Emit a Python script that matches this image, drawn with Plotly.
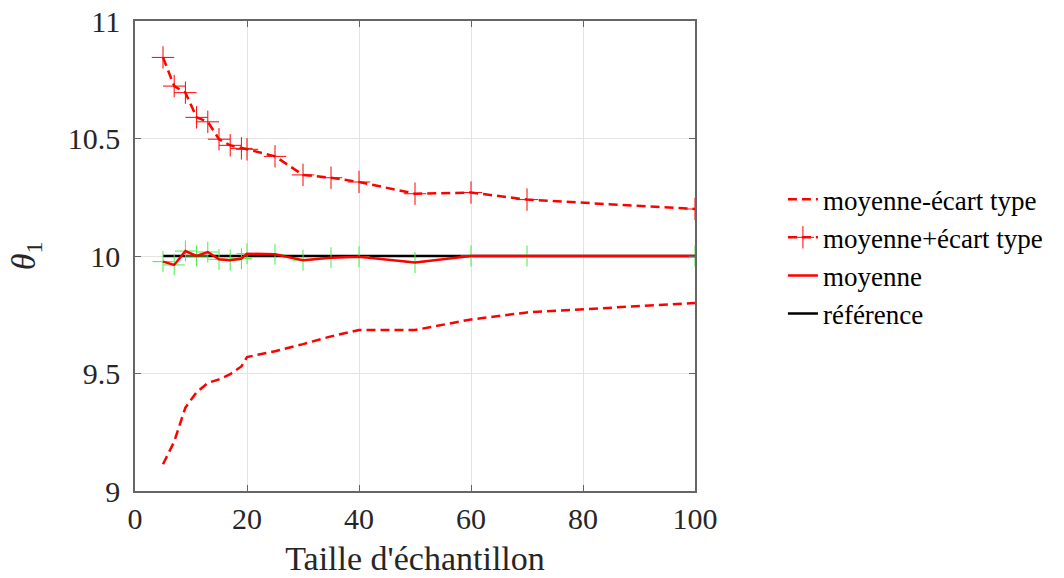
import plotly.graph_objects as go

# Data
taille = [5, 7, 9, 11, 13, 15, 17, 19, 20, 25, 30, 35, 40, 50, 60, 70, 100]
moyenne = [9.976, 9.962, 10.021, 10.0, 10.017, 9.986, 9.982, 9.989, 10.01, 10.007,
           9.982, 9.993, 9.997, 9.972, 10.0, 10.0, 10.0]
moy_plus_ecart = [10.845, 10.723, 10.695, 10.59, 10.571, 10.497, 10.471, 10.458, 10.454,
                  10.424, 10.345, 10.333, 10.315, 10.265, 10.27, 10.24, 10.20]
moy_moins_ecart = [9.114, 9.21, 9.355, 9.42, 9.46, 9.475, 9.497, 9.53, 9.57, 9.595,
                   9.625, 9.658, 9.685, 9.685, 9.73, 9.76, 9.80]
reference_x = [5, 100]
reference_y = [10, 10]

FONT = "Liberation Serif, Times New Roman, serif"
RED = "#ff0000"

fig = go.Figure()

fig.add_trace(go.Scatter(
    x=reference_x, y=reference_y, mode="lines", name="référence",
    line=dict(color="#000000", width=2.5), legendrank=4))

fig.add_trace(go.Scatter(
    x=taille, y=moy_moins_ecart, mode="lines", name="moyenne-écart type",
    line=dict(color=RED, width=2.5, dash="9px,5px"), legendrank=1))

fig.add_trace(go.Scatter(
    x=taille, y=moy_plus_ecart, mode="lines+markers", name="moyenne+écart type",
    line=dict(color=RED, width=2.5, dash="9px,5px"),
    marker=dict(symbol="cross-thin", size=16, line=dict(color=RED, width=1)),
    legendrank=2))

fig.add_trace(go.Scatter(
    x=taille, y=moyenne, mode="markers", showlegend=False,
    marker=dict(symbol="cross-thin", size=15, line=dict(color="#44ee44", width=1))))

fig.add_trace(go.Scatter(
    x=taille, y=moyenne, mode="lines", name="moyenne",
    line=dict(color=RED, width=2.5), legendrank=3))

axis_common = dict(
    showline=True, linecolor="#666666", linewidth=1.5, mirror="allticks",
    ticks="inside", ticklen=6, tickcolor="#666666", tickwidth=1,
    showgrid=True, gridcolor="#e3e3e3", gridwidth=1, zeroline=False,
    tickfont=dict(family=FONT, size=30, color="#262626"),
    ticklabeloverflow="allow",
)

fig.update_xaxes(range=[0, 100], dtick=20, tick0=0,
                 title=dict(text="Taille d'échantillon",
                            font=dict(family=FONT, size=34, color="#262626"),
                            standoff=12),
                 **axis_common)
fig.update_yaxes(range=[9, 11], dtick=0.5, tick0=9, ticklabelstandoff=7,
                 title=dict(text="<i>θ</i><sub>1</sub>",
                            font=dict(family=FONT, size=34, color="#262626"),
                            standoff=22),
                 **axis_common)

fig.update_layout(
    width=1064, height=578,
    margin=dict(l=135, r=369, t=21, b=87, autoexpand=False),
    plot_bgcolor="white", paper_bgcolor="white",
    showlegend=True,
    legend=dict(x=1.157, y=0.672, xanchor="left", yanchor="top",
                font=dict(family=FONT, size=27, color="#000000"),
                bgcolor="rgba(0,0,0,0)", tracegroupgap=0, itemwidth=30),
)

# remove the default page margin so the figure fills the window exactly
fig.write_html("out.html",
               config={"displayModeBar": False},
               post_script="document.body.style.margin='0px';document.body.style.overflow='hidden';")
